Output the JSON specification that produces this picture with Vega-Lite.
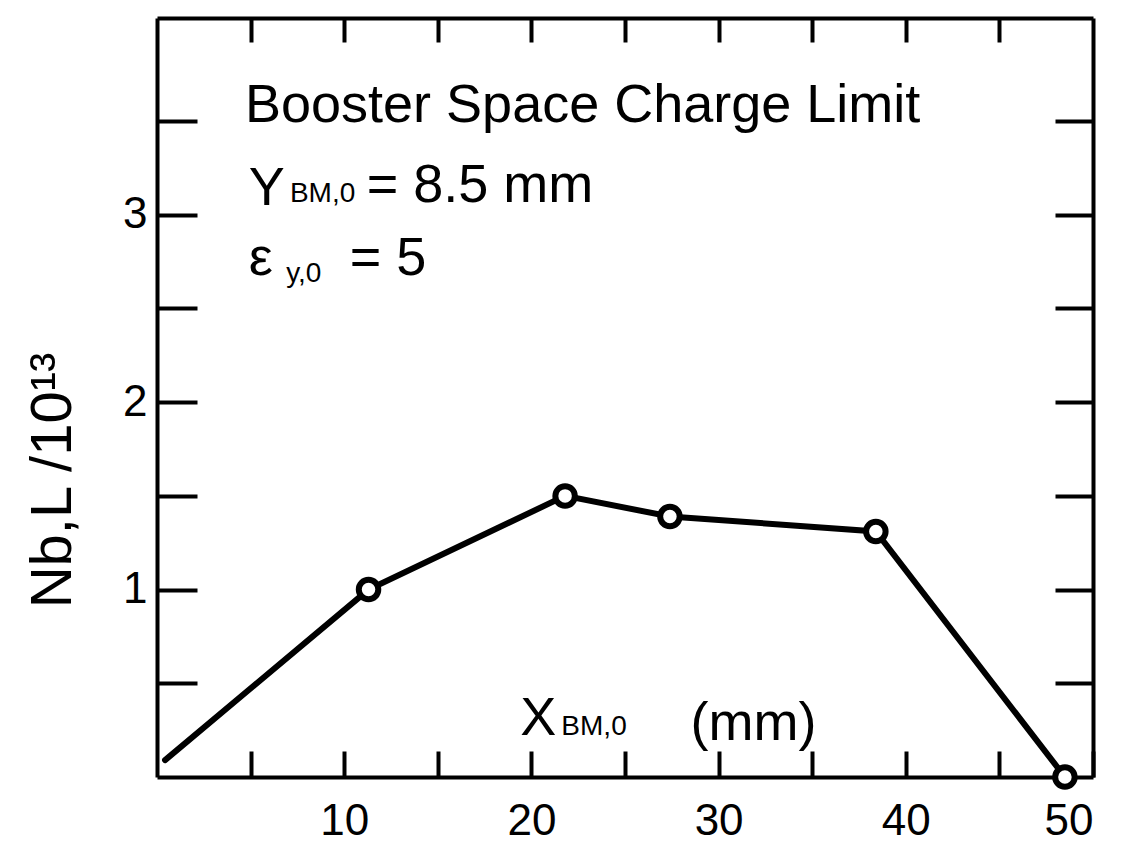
{
  "$schema": "https://vega.github.io/schema/vega-lite/v6.json",
  "width": 936,
  "height": 759,
  "autosize": {"type": "none"},
  "padding": {"left": 157, "top": 18, "right": 44, "bottom": 86},
  "background": "white",
  "config": {
    "view": {"stroke": null},
    "font": "Liberation Sans",
    "axis": {
      "grid": false,
      "domainColor": "black",
      "domainWidth": 4,
      "tickColor": "black",
      "tickWidth": 4,
      "labelColor": "black",
      "labelFont": "Liberation Sans",
      "titleColor": "black",
      "titleFont": "Liberation Sans",
      "titleFontWeight": "normal"
    }
  },
  "datasets": {
    "curve": [
      {"x_mm": 0.43, "n": 0.09},
      {"x_mm": 11.3, "n": 1.0},
      {"x_mm": 21.8, "n": 1.5},
      {"x_mm": 27.4, "n": 1.39},
      {"x_mm": 38.4, "n": 1.31},
      {"x_mm": 48.5, "n": 0.0}
    ],
    "measured": [
      {"x_mm": 11.3, "n": 1.0},
      {"x_mm": 21.8, "n": 1.5},
      {"x_mm": 27.4, "n": 1.39},
      {"x_mm": 38.4, "n": 1.31},
      {"x_mm": 48.5, "n": 0.0}
    ],
    "notes": [
      {"x_mm": 4.7, "n": 3.495, "text": "Booster Space Charge Limit", "size": "big"},
      {"x_mm": 4.9, "n": 3.05, "text": "Y", "size": "big"},
      {"x_mm": 7.1, "n": 3.07, "text": "BM,0", "size": "small"},
      {"x_mm": 11.2, "n": 3.07, "text": "= 8.5 mm", "size": "big"},
      {"x_mm": 4.9, "n": 2.68, "text": "ε", "size": "big"},
      {"x_mm": 6.9, "n": 2.64, "text": "y,0", "size": "small"},
      {"x_mm": 10.3, "n": 2.68, "text": "= 5", "size": "big"},
      {"x_mm": 19.4, "n": 0.224, "text": "X", "size": "big"},
      {"x_mm": 21.6, "n": 0.224, "text": "BM,0", "size": "small"},
      {"x_mm": 28.5, "n": 0.2, "text": "(mm)", "size": "big"}
    ]
  },
  "resolve": {"axis": {"x": "independent", "y": "independent"}},
  "layer": [
    {
      "data": {"name": "curve"},
      "mark": {"type": "line", "color": "black", "strokeWidth": 6, "strokeCap": "round"},
      "encoding": {
        "x": {
          "field": "x_mm", "type": "quantitative",
          "scale": {"domain": [0, 50], "nice": false, "zero": false},
          "axis": {
            "orient": "bottom",
            "values": [5, 10, 15, 20, 25, 30, 35, 40, 45, 50],
            "labelExpr": "datum.value % 10 === 0 ? format(datum.value, 'd') : ''",
            "tickSize": -26,
            "labelFontSize": 44,
            "labelPadding": 48,
            "title": null
          }
        },
        "y": {
          "field": "n", "type": "quantitative",
          "scale": {"domain": [0, 4.05], "nice": false},
          "axis": {
            "orient": "left",
            "values": [0.5, 1, 1.5, 2, 2.5, 3, 3.5],
            "labelExpr": "datum.value % 1 === 0 ? format(datum.value, 'd') : ''",
            "tickSize": -40,
            "labelFontSize": 44,
            "labelPadding": 50,
            "title": "Nb,L /10¹³",
            "titleFontSize": 58,
            "titlePadding": 40,
            "titleY": 462
          }
        }
      }
    },
    {
      "data": {"name": "measured"},
      "mark": {"type": "point", "shape": "circle", "filled": false, "fill": "white", "fillOpacity": 1, "stroke": "black", "strokeWidth": 6, "size": 380, "opacity": 1},
      "encoding": {
        "x": {
          "field": "x_mm", "type": "quantitative",
          "axis": {
            "orient": "top",
            "values": [5, 10, 15, 20, 25, 30, 35, 40, 45],
            "labels": false,
            "tickSize": -24,
            "title": null
          }
        },
        "y": {
          "field": "n", "type": "quantitative",
          "axis": {
            "orient": "right",
            "values": [0.5, 1, 1.5, 2, 2.5, 3, 3.5],
            "labels": false,
            "tickSize": -38,
            "title": null
          }
        }
      }
    },
    {
      "data": {"name": "notes"},
      "mark": {"type": "text", "align": "left", "baseline": "alphabetic", "color": "black"},
      "encoding": {
        "x": {"field": "x_mm", "type": "quantitative", "axis": null},
        "y": {"field": "n", "type": "quantitative", "axis": null},
        "text": {"field": "text"},
        "size": {
          "field": "size", "type": "nominal",
          "scale": {"domain": ["big", "small"], "range": [54, 28]},
          "legend": null
        }
      }
    }
  ]
}
